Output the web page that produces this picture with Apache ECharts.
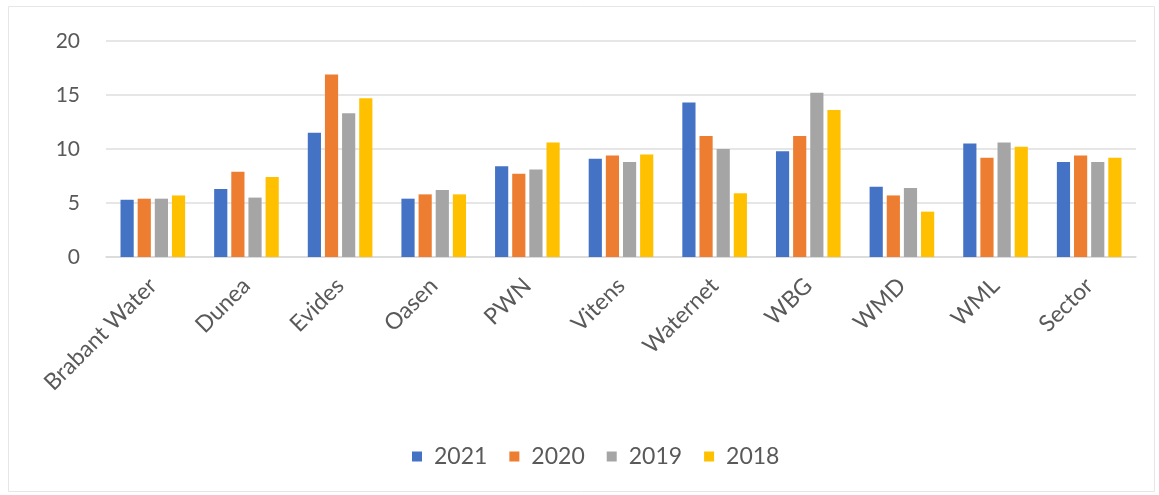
<!DOCTYPE html>
<html>
<head>
<meta charset="utf-8">
<script src="https://cdn.jsdelivr.net/npm/echarts@6/dist/echarts.min.js"></script>
<style>
html,body{margin:0;padding:0;background:#fff;}
#chart{width:1159px;height:495px;}
</style>
</head>
<body>
<div id="chart"></div>
<script>
const categories = ['Brabant Water','Dunea','Evides','Oasen','PWN','Vitens','Waternet','WBG','WMD','WML','Sector'];
const seriesNames = ['2021','2020','2019','2018'];
const values2021 = [5.3, 6.3, 11.5, 5.4, 8.4, 9.1, 14.3, 9.8, 6.5, 10.5, 8.8];
const values2020 = [5.4, 7.9, 16.9, 5.8, 7.7, 9.4, 11.2, 11.2, 5.7, 9.2, 9.4];
const values2019 = [5.4, 5.5, 13.3, 6.2, 8.1, 8.8, 10.0, 15.2, 6.4, 10.6, 8.8];
const values2018 = [5.7, 7.4, 14.7, 5.8, 10.6, 9.5, 5.9, 13.6, 4.2, 10.2, 9.2];
const yTicks = [0, 5, 10, 15, 20];

const colors = ['#4472C4', '#ED7D31', '#A5A5A5', '#FFC000'];
const allValues = [values2021, values2020, values2019, values2018];
const font = 'Lato, "Open Sans", sans-serif';

const chart = echarts.init(document.getElementById('chart'), null, {renderer: 'canvas'});
chart.setOption({
  animation: false,
  color: colors,
  graphic: [{
    type: 'rect',
    shape: {x: 8.5, y: 6.5, width: 1146, height: 485},
    style: {fill: 'none', stroke: '#e6e6e6', lineWidth: 1},
    silent: true
  }],
  grid: {left: 106, right: 23, top: 41, bottom: 238},
  legend: {
    data: seriesNames,
    bottom: 22,
    left: 407,
    itemWidth: 10,
    itemHeight: 10,
    itemGap: 22,
    icon: 'rect',
    textStyle: {color: '#595959', fontSize: 23, fontFamily: font, padding: [0, 0, 0, 7]}
  },
  xAxis: {
    type: 'category',
    data: categories,
    axisLine: {lineStyle: {color: '#d9d9d9', width: 1.5}},
    axisTick: {show: false},
    axisLabel: {
      rotate: 45,
      interval: 0,
      margin: 25,
      color: '#595959',
      fontSize: 23,
      fontFamily: font
    }
  },
  yAxis: {
    type: 'value',
    min: yTicks[0],
    max: yTicks[yTicks.length - 1],
    interval: 5,
    axisLine: {show: false},
    axisTick: {show: false},
    splitLine: {lineStyle: {color: '#dedede', width: 1.5}},
    axisLabel: {color: '#595959', fontSize: 21, fontFamily: font, margin: 26}
  },
  series: seriesNames.map((name, i) => ({
    name: name,
    type: 'bar',
    data: allValues[i],
    barGap: '30%',
    barCategoryGap: '31%',
    itemStyle: {color: colors[i]}
  }))
});
</script>
</body>
</html>
